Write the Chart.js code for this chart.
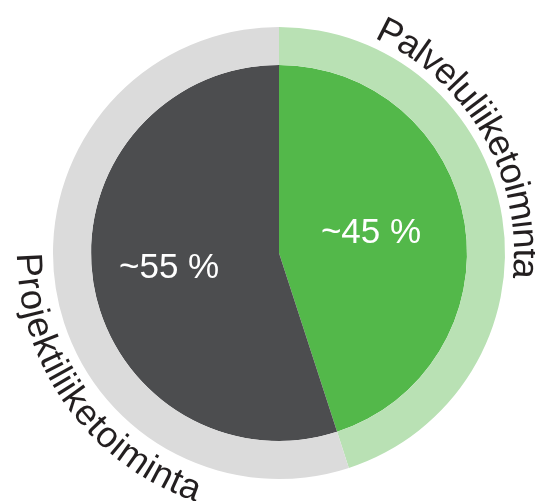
<!DOCTYPE html>
<html>
<head>
<meta charset="utf-8">
<script src="https://cdn.jsdelivr.net/npm/chart.js@4.4.1/dist/chart.umd.min.js"></script>
<style>
  html, body { margin: 0; padding: 0; background: #fff; }
  #wrap { width: 535px; height: 501px; }
</style>
</head>
<body>
<div id="wrap"><canvas id="shareChart"></canvas></div>
<script>
// segments, clockwise from 12 o'clock
const segmentNames = ["Palveluliiketoiminta", "Projektiliiketoiminta"];
const segmentShares = [45, 55];
const shareLabels = ["~45 %", "~55 %"];

const innerColors = ["#53b84a", "#4c4d4f"];
const outerColors = ["#b9e1b4", "#dbdbdb"];

// where the curved names sit (degrees clockwise from top) and which way they run
const nameStart = [24, 270];
const nameDir = [1, -1];

const labelPlugin = {
    id: "labelPlugin",
    afterDatasetsDraw(chart) {
        const ctx = chart.ctx;
        const ring = chart.getDatasetMeta(0);
        const pie = chart.getDatasetMeta(1);

        // percentage labels inside the pie
        const fracs = [0.5, 0.59];
        ctx.save();
        ctx.fillStyle = "#ffffff";
        ctx.font = "35px 'Liberation Sans', Arial, sans-serif";
        ctx.textAlign = "center";
        ctx.textBaseline = "middle";
        pie.data.forEach((arc, i) => {
            const p = arc.getProps(["x", "y", "startAngle", "endAngle", "outerRadius"], true);
            const mid = (p.startAngle + p.endAngle) / 2 + (i === 0 ? -0.05 : 0.02);
            const r = p.outerRadius * fracs[i];
            ctx.fillText(shareLabels[i], p.x + Math.cos(mid) * r, p.y + Math.sin(mid) * r);
        });
        ctx.restore();

        // names curved around the outer ring
        ctx.save();
        ctx.fillStyle = "#231f20";
        ctx.font = "36.5px 'Liberation Sans', Arial, sans-serif";
        ctx.textAlign = "center";
        ctx.textBaseline = "alphabetic";
        ring.data.forEach((arc, i) => {
            const p = arc.getProps(["x", "y", "outerRadius"], true);
            const dir = nameDir[i];
            const rb = dir > 0 ? p.outerRadius + 9 : p.outerRadius + 36;
            const rAdv = dir > 0 ? rb + 12 : rb - 12;
            let a = (nameStart[i] - 90) * Math.PI / 180;
            for (const ch of segmentNames[i]) {
                const w = ctx.measureText(ch).width;
                const ac = a + dir * (w / 2) / rAdv;
                ctx.save();
                ctx.translate(p.x + Math.cos(ac) * rb, p.y + Math.sin(ac) * rb);
                ctx.rotate(dir > 0 ? ac + Math.PI / 2 : ac - Math.PI / 2);
                ctx.fillText(ch, 0, 0);
                ctx.restore();
                a += dir * w / rAdv;
            }
        });
        ctx.restore();
    },
};

new Chart(document.getElementById("shareChart"), {
    type: "doughnut",
    data: {
        labels: segmentNames,
        datasets: [
            {
                data: segmentShares,
                backgroundColor: outerColors,
                borderWidth: 0,
                weight: 38,
            },
            {
                data: segmentShares,
                backgroundColor: innerColors,
                borderWidth: 0,
                weight: 188,
            },
        ],
    },
    options: {
        responsive: true,
        maintainAspectRatio: false,
        animation: false,
        cutout: 0,
        events: [],
        layout: { padding: { left: 53, right: 30, top: 27, bottom: 22 } },
        plugins: {
            legend: { display: false },
            tooltip: { enabled: false },
        },
    },
    plugins: [labelPlugin],
});
</script>
</body>
</html>
